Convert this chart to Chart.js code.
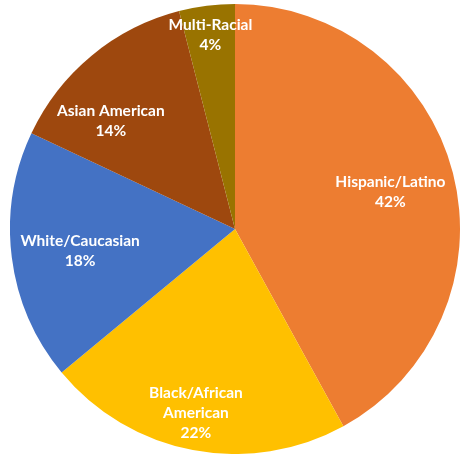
<!DOCTYPE html>
<html>
<head>
<meta charset="utf-8">
<script src="https://cdn.jsdelivr.net/npm/chart.js@4.4.1/dist/chart.umd.min.js"></script>
<style>
    html, body { margin: 0; padding: 0; background: #fff; overflow: hidden; }
    body { width: 460px; height: 457px; position: relative; }
    #wrap { position: absolute; left: 10px; top: 4px; width: 450px; height: 450px; }
</style>
</head>
<body>
<div id="wrap"><canvas id="pieChart"></canvas></div>
<script>
const categories = ["Hispanic/Latino", "Black/African American", "White/Caucasian", "Asian American", "Multi-Racial"];
const shares = [42, 22, 18, 14, 4];
const sliceColors = ["#ED7D31", "#FFC000", "#4472C4", "#9E480E", "#997300"];

// label text lines per slice (Excel wraps the long one)
const labelLines = [["Hispanic/Latino"], ["Black/African", "American"], ["White/Caucasian"], ["Asian American"], ["Multi-Racial"]];
// where each label sits inside its slice: fraction of radius, angle nudge in degrees
const labelRadius = [0.71, 0.835, 0.695, 0.73, 0.87];
const labelNudge = [1, 1.2, -0.8, -9.5, 0];

const sliceLabels = {
    id: "sliceLabels",
    afterDatasetsDraw(chart) {
        const ctx = chart.ctx;
        const meta = chart.getDatasetMeta(0);
        ctx.save();
        ctx.fillStyle = "#ffffff";
        ctx.font = "bold 15.5px Lato, 'Open Sans', sans-serif";
        ctx.textAlign = "center";
        ctx.textBaseline = "middle";
        meta.data.forEach((arc, i) => {
            const p = arc.getProps(["x", "y", "startAngle", "endAngle", "outerRadius"], true);
            const mid = (p.startAngle + p.endAngle) / 2 + labelNudge[i] * Math.PI / 180;
            const r = p.outerRadius * labelRadius[i];
            const cx = p.x + Math.cos(mid) * r;
            const cy = p.y + Math.sin(mid) * r;
            const lines = labelLines[i].concat([shares[i] + "%"]);
            const lh = 20;
            const top = cy - (lines.length - 1) * lh / 2;
            lines.forEach((t, k) => ctx.fillText(t, cx, top + k * lh));
        });
        ctx.restore();
    },
};

new Chart(document.getElementById("pieChart").getContext("2d"), {
    type: "pie",
    data: {
        labels: categories,
        datasets: [{
            data: shares,
            backgroundColor: sliceColors,
            borderWidth: 0,
        }],
    },
    options: {
        responsive: true,
        maintainAspectRatio: false,
        animation: false,
        layout: { padding: 0 },
        plugins: {
            legend: { display: false },
            tooltip: { enabled: false },
        },
    },
    plugins: [sliceLabels],
});
</script>
</body>
</html>
